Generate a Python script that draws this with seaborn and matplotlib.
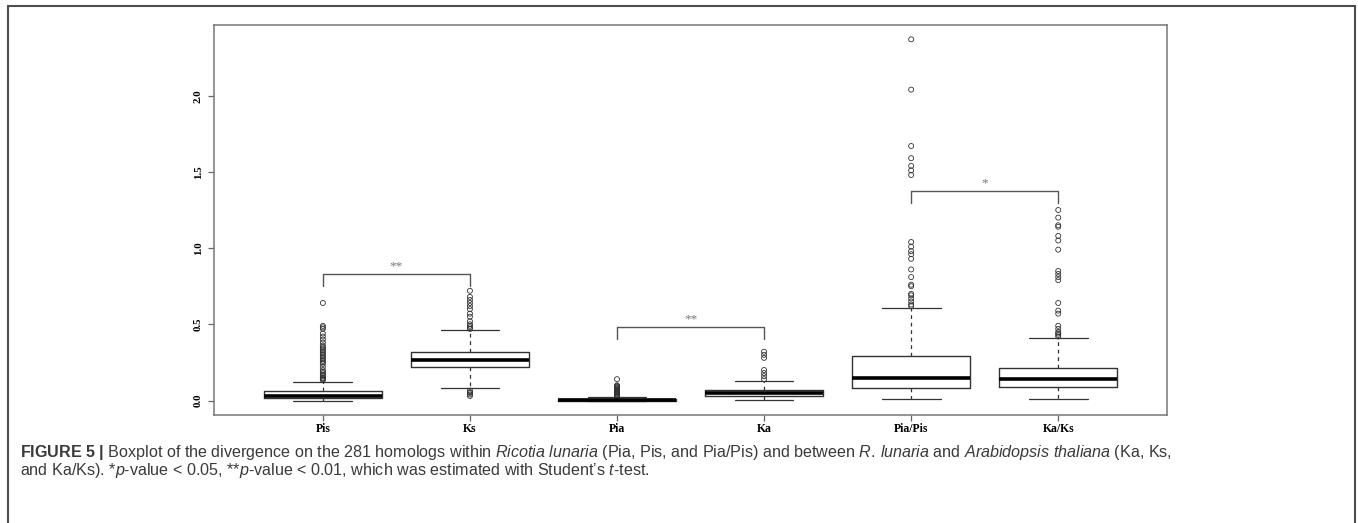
import numpy as np
import pandas as pd
import matplotlib
matplotlib.use("Agg")
import matplotlib.pyplot as plt
from matplotlib.patches import Rectangle
import seaborn as sns


# Divergence boxplot (281 homologs)

groups = ['Pis', 'Ks', 'Pia', 'Ka', 'Pia/Pis', 'Ka/Ks']

# box statistics
q1 = [0.017, 0.223, 0.0, 0.030, 0.081, 0.092]
median = [0.028, 0.269, 0.004, 0.048, 0.148, 0.138]
q3 = [0.063, 0.319, 0.009, 0.068, 0.293, 0.214]
whisker_lo = [0.0, 0.085, 0.0, 0.004, 0.009, 0.009]
whisker_hi = [0.122, 0.461, 0.020, 0.129, 0.606, 0.407]

# outliers
out_pis = [0.135, 0.14, 0.145, 0.15, 0.16, 0.17, 0.18, 0.19, 0.20, 0.22, 0.24, 0.25,
           0.26, 0.27, 0.28, 0.29, 0.30, 0.31, 0.32, 0.33, 0.34, 0.35, 0.36, 0.38,
           0.40, 0.42, 0.44, 0.47, 0.48, 0.49, 0.64]
out_ks = [0.03, 0.04, 0.05, 0.055, 0.065, 0.47, 0.48, 0.49, 0.50, 0.52, 0.55, 0.57,
          0.60, 0.62, 0.64, 0.66, 0.68, 0.72]
out_pia = [0.025, 0.03, 0.035, 0.04, 0.045, 0.05, 0.055, 0.06, 0.065, 0.07, 0.075,
           0.08, 0.085, 0.09, 0.095, 0.10, 0.14]
out_ka = [0.14, 0.16, 0.18, 0.20, 0.28, 0.30, 0.32]
out_pia_pis = [0.62, 0.63, 0.65, 0.67, 0.69, 0.70, 0.75, 0.76, 0.81, 0.86, 0.93, 0.96,
               0.98, 1.01, 1.04, 1.48, 1.51, 1.54, 1.59, 1.67, 2.04, 2.37]
out_ka_ks = [0.42, 0.43, 0.44, 0.45, 0.47, 0.49, 0.57, 0.59, 0.64, 0.79, 0.81, 0.83,
             0.85, 0.99, 1.05, 1.08, 1.14, 1.15, 1.20, 1.25]
outliers = [out_pis, out_ks, out_pia, out_ka, out_pia_pis, out_ka_ks]

# significance brackets (left group, right group, height, label)
sig_left = ['Pis', 'Pia', 'Pia/Pis']
sig_right = ['Ks', 'Ka', 'Ka/Ks']
sig_height = [0.829, 0.483, 1.375]
sig_label = ['**', '**', '*']

yticks = [0.0, 0.5, 1.0, 1.5, 2.0]

caption1 = (r"$\mathbf{FIGURE\ 5\ |}$ Boxplot of the divergence on the 281 homologs within "
            r"$\mathit{Ricotia\ lunaria}$ (Pia, Pis, and Pia/Pis) and between "
            r"$\mathit{R.\!\ lunaria}$ and $\mathit{Arabidopsis\ thaliana}$ (Ka, Ks,")
caption2 = (r"and Ka/Ks). *$\mathit{p}$-value < 0.05, **$\mathit{p}$-value < 0.01, "
            r"which was estimated with Student’s $\mathit{t}$-test.")


sns.set_theme(style="white")
sns.set_style("ticks")
plt.rcParams['font.family'] = ['Liberation Sans', 'DejaVu Sans']
plt.rcParams['mathtext.fontset'] = 'custom'
plt.rcParams['mathtext.rm'] = 'Liberation Sans'
plt.rcParams['mathtext.it'] = 'Liberation Sans:italic'
plt.rcParams['mathtext.bf'] = 'Liberation Sans:bold'

fig = plt.figure(figsize=(13.58, 5.23), dpi=100)
ax = fig.add_axes([0.1576, 0.2065, 0.7018, 0.7457])

pos = list(range(len(groups)))
stats = []
for i, g in enumerate(groups):
    stats.append(dict(label=g, q1=q1[i], med=median[i], q3=q3[i],
                      whislo=whisker_lo[i], whishi=whisker_hi[i]))

ax.bxp(stats, positions=pos, widths=0.8, capwidths=0.4, showfliers=False,
       boxprops=dict(color='#333333', lw=1),
       medianprops=dict(color='black', lw=2.6),
       whiskerprops=dict(color='#333333', lw=0.9, linestyle=(0, (3, 3))),
       capprops=dict(color='#333333', lw=0.9))

# outliers through seaborn
out_df = pd.DataFrame({
    "pos": np.concatenate([[pos[i]] * len(o) for i, o in enumerate(outliers)]),
    "value": np.concatenate(outliers),
})
sns.scatterplot(data=out_df, x="pos", y="value", marker='o', s=13,
                facecolors='none', edgecolor='#333333', linewidth=0.6, ax=ax)

# significance brackets
for left, right, h, lab in zip(sig_left, sig_right, sig_height, sig_label):
    x1 = groups.index(left)
    x2 = groups.index(right)
    ax.plot([x1, x1, x2, x2], [h - 0.078, h, h, h - 0.078], color='#555555', lw=1)
    ax.annotate(lab, xy=((x1 + x2) / 2, h), xytext=(0, 1), textcoords='offset points',
                ha='center', va='bottom', fontsize=9.5, color='#777777',
                family='Liberation Serif')

ax.set_xlim(-0.74, 5.74)
ax.set_ylim(-0.095, 2.464)
ax.set_xticks(pos)
ax.set_xticklabels(groups, fontsize=8.5, fontweight='bold', family='Liberation Serif')
ax.set_yticks(yticks)
ax.set_yticklabels([f"{t:.1f}" for t in yticks], rotation=90, va='center',
                   fontsize=7.8, fontweight='bold', family='Liberation Serif')
ax.tick_params(axis='both', length=4, width=0.9, color='#666666', labelcolor='black')
ax.tick_params(axis='x', pad=1.5)
ax.tick_params(axis='y', pad=4)
ax.set_xlabel('')
ax.set_ylabel('')
for sp in ax.spines.values():
    sp.set_color('#777777')
    sp.set_linewidth(1.1)

# outer frame and caption
fig.patches.append(Rectangle((8 / 1358, -0.05), 1347 / 1358, 1 - 6 / 523 + 0.05,
                             transform=fig.transFigure, fill=False,
                             edgecolor='#4d4d4d', lw=1.5))
fig.text(20 / 1358, 1 - 453 / 523, caption1, fontsize=11.6, color='#3a3a3a', va='center')
fig.text(20 / 1358, 1 - 471 / 523, caption2, fontsize=11.6, color='#3a3a3a', va='center')

plt.savefig('out.png', dpi=100)
